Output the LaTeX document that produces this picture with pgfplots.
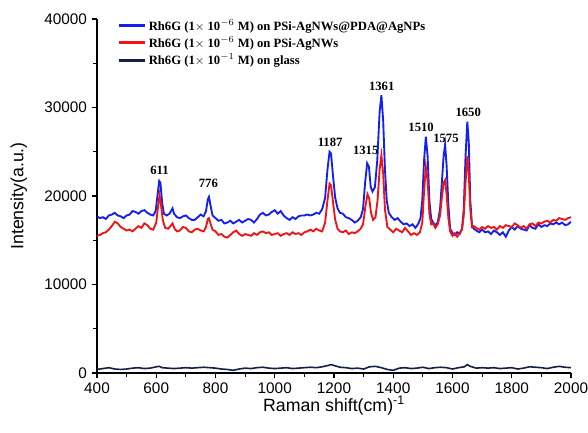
\documentclass[border=0pt]{standalone}
\usepackage{fontspec}
\setmainfont{Liberation Sans}
\newfontfamily\tnr{Liberation Serif}
\usepackage{xcolor}
\definecolor{specblue}{HTML}{1420F0}
\definecolor{specred}{HTML}{F01414}
\definecolor{specnavy}{HTML}{14204A}
\usepackage{pgfplots}
\pgfplotsset{compat=1.18}

\begin{document}
\begin{tikzpicture}
\begin{axis}[
    name=main,
    scale only axis,
    width=355.5pt, height=265.5pt,
    xmin=400, xmax=2000,
    ymin=0, ymax=40000,
    axis x line*=bottom, axis y line*=left,
    axis line style={-, line width=0.8pt},
    tick align=outside,
    xtick={400,600,...,2000},
    minor xtick={500,700,...,1900},
    ytick={0,10000,20000,30000,40000},
    minor ytick={5000,15000,25000,35000},
    major tick length=4pt, minor tick length=3pt,
    tick style={line width=0.8pt, black},
    /pgf/number format/assume math mode=true,
    /pgf/number format/1000 sep={},
    scaled y ticks=false,
    tick label style={font=\fontsize{11.5}{13}\selectfont},
    xlabel={Raman shift(cm)\textsuperscript{-1}},
    ylabel={Intensity(a.u.)},
    label style={font=\fontsize{13.3}{15}\selectfont},
    xlabel style={yshift=5pt},
    ylabel style={yshift=6pt},
    legend style={draw=none, fill=none, at={(0.035,1.015)}, anchor=north west,
        font=\tnr\bfseries\fontsize{9.5}{11}\selectfont, row sep=-1pt},
    legend cell align=left,
    legend image code/.code={\draw[line width=2.2pt,#1] (0pt,0pt) -- (19pt,0pt);},
]
\addplot[specblue, line width=1.4pt] coordinates {
(400,17700) (410,17500) (420,17600) (430,17400) (440,17800) (450,17900) (460,18100) (470,17800)
(480,17700) (490,17500) (500,17800) (510,17900) (520,18300) (530,18200) (540,18000) (550,18300)
(560,18400) (570,18100) (580,17900) (590,17800) (598,18300) (604,20000) (610,21700) (614,21500)
(620,19200) (626,18000) (635,17800) (645,18000) (650,18300) (655,18600) (660,18000) (670,17600)
(680,17500) (690,17700) (700,17800) (710,17500) (720,17300) (730,17300) (740,17600) (750,17900)
(760,17700) (768,18300) (774,19600) (778,19900) (784,18800) (790,17800) (800,17500) (810,17200)
(820,17300) (830,16900) (840,17000) (850,17200) (860,16900) (870,17100) (880,17300) (890,17000)
(900,17200) (910,17400) (920,17300) (930,17000) (940,17400) (950,17900) (960,18100) (970,17800)
(980,17900) (990,18200) (1000,18400) (1010,18000) (1020,18300) (1030,17800) (1040,17500) (1050,17300)
(1060,17600) (1070,17400) (1080,17700) (1090,17800) (1100,17800) (1110,17900) (1120,17800) (1130,17900)
(1140,18100) (1150,18000) (1160,18500) (1170,19800) (1178,23000) (1185,25000) (1190,24800) (1196,22500)
(1204,19800) (1212,18600) (1220,18100) (1230,18000) (1240,17600) (1250,17500) (1260,17300) (1270,17000)
(1280,17200) (1290,17600) (1298,18500) (1305,21500) (1312,23700) (1318,23300) (1324,21000) (1330,20500)
(1338,21000) (1346,24000) (1354,29500) (1360,31400) (1366,28500) (1372,23000) (1378,19500) (1385,18100)
(1395,17600) (1405,17300) (1415,17500) (1425,17100) (1435,16800) (1445,16900) (1455,16600) (1465,16800)
(1475,16400) (1485,16900) (1492,17500) (1498,19500) (1504,24000) (1510,26700) (1516,24500) (1522,19500)
(1528,17400) (1535,17000) (1542,16700) (1550,17000) (1558,18500) (1564,21500) (1570,24500) (1575,25800)
(1580,23500) (1586,19000) (1592,16300) (1600,15800) (1608,15600) (1616,15900) (1624,15700) (1632,16300)
(1638,18500) (1644,24500) (1650,28400) (1655,26000) (1660,19500) (1666,16600) (1672,16300) (1680,16100)
(1690,15900) (1700,16200) (1710,15900) (1720,16000) (1730,15700) (1740,16100) (1750,15900) (1760,15600)
(1770,15900) (1780,15400) (1790,16100) (1800,16500) (1810,16200) (1820,16600) (1830,16300) (1840,16200)
(1850,16100) (1860,16700) (1870,16400) (1880,16300) (1890,16800) (1900,16500) (1910,16700) (1920,16600)
(1930,16900) (1940,16800) (1950,17000) (1960,16800) (1970,17000) (1980,16700) (1990,16800) (2000,17100)
};
\addlegendentry{Rh6G (1$\times$ 10$^{-6}$ M) on PSi-AgNWs@PDA@AgNPs}
\addplot[specred, line width=1.4pt] coordinates {
(400,15500) (410,15600) (420,15800) (430,15900) (440,16200) (450,16600) (460,17100) (470,16900)
(480,16500) (490,16300) (500,16100) (510,16200) (520,16000) (530,16300) (540,16600) (550,16400)
(560,16900) (570,16700) (580,16300) (590,16200) (600,17000) (606,18800) (611,20100) (616,19000)
(622,17300) (630,16400) (640,16300) (648,16600) (655,16900) (662,16300) (670,16000) (680,16100)
(690,16500) (700,16400) (710,16000) (720,15900) (730,16200) (740,16300) (750,16100) (760,16000)
(768,16500) (774,17400) (778,17500) (784,16800) (790,16200) (800,16000) (810,15600) (820,15700)
(830,15400) (840,15300) (850,15600) (860,15900) (870,16100) (880,15700) (890,15500) (900,15700)
(910,15600) (920,15500) (930,15800) (940,15600) (950,15900) (960,16000) (970,15800) (980,15900)
(990,15600) (1000,15700) (1010,15800) (1020,15500) (1030,15700) (1040,15800) (1050,15600) (1060,15900)
(1070,15700) (1080,15800) (1090,15600) (1100,15900) (1110,16000) (1120,16200) (1130,16000) (1140,16300)
(1150,16100) (1160,16000) (1170,17000) (1178,19500) (1185,21400) (1190,21200) (1196,19500) (1204,17300)
(1212,16300) (1220,16000) (1230,15900) (1240,16100) (1250,15700) (1260,15900) (1270,15800) (1280,16000)
(1290,16300) (1298,16800) (1306,18800) (1313,20200) (1319,19700) (1325,18100) (1332,17300) (1340,17600)
(1347,19500) (1354,23000) (1360,24600) (1366,22500) (1372,18500) (1380,16500) (1390,16200) (1400,15900)
(1410,16300) (1420,16100) (1430,15900) (1440,16400) (1450,16000) (1460,15600) (1470,15800) (1480,15600)
(1490,15900) (1498,17000) (1504,20500) (1510,23300) (1516,21800) (1522,18000) (1528,16800) (1535,16900)
(1542,16400) (1550,16800) (1558,17800) (1564,19800) (1570,21500) (1575,21800) (1580,20300) (1586,17500)
(1592,16000) (1600,15500) (1608,15800) (1616,15400) (1624,15800) (1632,16200) (1638,17800) (1644,21500)
(1650,24500) (1655,22500) (1660,18500) (1666,16500) (1672,16600) (1680,16400) (1690,16200) (1700,16500)
(1710,16300) (1720,16600) (1730,16400) (1740,16500) (1750,16200) (1760,16600) (1770,16400) (1780,16700)
(1790,16600) (1800,16500) (1810,16900) (1820,16700) (1830,16400) (1840,16600) (1850,16300) (1860,16800)
(1870,16900) (1880,16600) (1890,17000) (1900,16900) (1910,17100) (1920,17200) (1930,17000) (1940,17300)
(1950,17200) (1960,17500) (1970,17400) (1980,17300) (1990,17500) (2000,17600)
};
\addlegendentry{Rh6G (1$\times$ 10$^{-6}$ M) on PSi-AgNWs}
\addplot[specnavy, line width=1.2pt] coordinates {
(400,400) (420,500) (440,600) (460,450) (480,400) (500,450) (520,550) (540,600) (560,500) (580,550)
(600,700) (610,750) (620,600) (640,550) (660,500) (680,550) (700,600) (720,550) (740,600) (760,650)
(780,600) (800,550) (820,450) (840,400) (860,300) (880,450) (900,550) (920,500) (940,600) (960,650)
(980,550) (1000,500) (1020,550) (1040,600) (1060,500) (1080,550) (1100,600) (1120,650) (1140,600)
(1160,700) (1180,850) (1190,950) (1200,850) (1220,650) (1240,600) (1260,500) (1280,550) (1300,450)
(1320,700) (1340,750) (1360,600) (1380,400) (1400,300) (1420,550) (1440,600) (1460,500) (1480,550)
(1500,650) (1520,500) (1540,600) (1560,650) (1580,600) (1600,450) (1620,600) (1640,700) (1650,950)
(1660,750) (1680,550) (1700,600) (1720,550) (1740,600) (1760,500) (1780,550) (1800,600) (1820,450)
(1840,550) (1860,700) (1880,650) (1900,600) (1920,500) (1940,650) (1960,750) (1980,650) (2000,600)
};
\addlegendentry{Rh6G (1$\times$ 10$^{-1}$ M) on glass}
\begin{scope}[every node/.style={font=\tnr\bfseries\fontsize{9.5}{11}\selectfont}]
\node at (axis cs:611,22900) {611};
\node at (axis cs:776,21400) {776};
\node at (axis cs:1187,26100) {1187};
\node at (axis cs:1307,25100) {1315};
\node at (axis cs:1361,32350) {1361};
\node at (axis cs:1494,27800) {1510};
\node at (axis cs:1578,26500) {1575};
\node at (axis cs:1653,29500) {1650};
\end{scope}
\end{axis}
\pgfresetboundingbox
\path[use as bounding box] ([xshift=-72.75pt,yshift=-45pt]main.south west) rectangle ([xshift=12.75pt,yshift=14.25pt]main.north east);
\end{tikzpicture}
\end{document}
